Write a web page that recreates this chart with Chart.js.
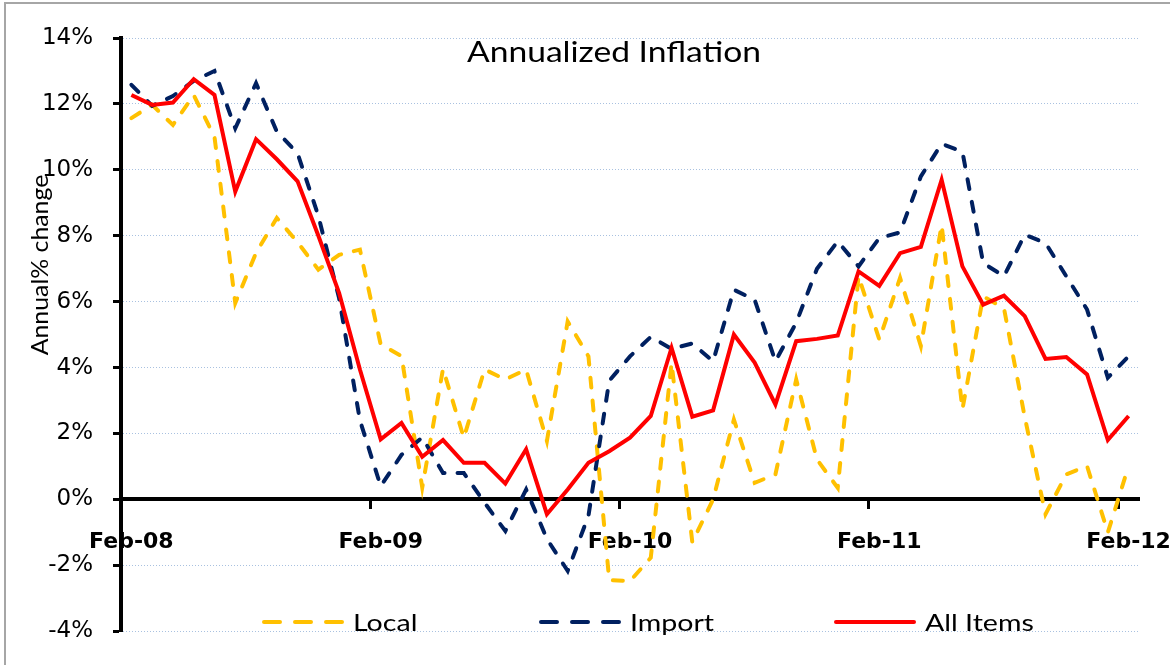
<!DOCTYPE html>
<html>
  <head>
    <title>Annualized Inflation</title>
    <script src="https://cdn.jsdelivr.net/npm/chart.js"></script>
    <style>
      html,
      body {
        margin: 0;
        padding: 0;
        background: #ffffff;
      }

      canvas {
        display: block;
      }
    </style>
  </head>
  <body>
    <canvas id="inflationChart" width="1170" height="665"></canvas>

    <script>
      // Monthly categories, Feb-08 to Feb-12
      const months = [
        "Feb-08", "Mar-08", "Apr-08", "May-08", "Jun-08", "Jul-08", "Aug-08", "Sep-08", "Oct-08", "Nov-08", "Dec-08", "Jan-09",
        "Feb-09", "Mar-09", "Apr-09", "May-09", "Jun-09", "Jul-09", "Aug-09", "Sep-09", "Oct-09", "Nov-09", "Dec-09", "Jan-10",
        "Feb-10", "Mar-10", "Apr-10", "May-10", "Jun-10", "Jul-10", "Aug-10", "Sep-10", "Oct-10", "Nov-10", "Dec-10", "Jan-11",
        "Feb-11", "Mar-11", "Apr-11", "May-11", "Jun-11", "Jul-11", "Aug-11", "Sep-11", "Oct-11", "Nov-11", "Dec-11", "Jan-12",
        "Feb-12",
      ];

      // Only these months get a label and a tick mark
      const yearTicks = ["Feb-08", "Feb-09", "Feb-10", "Feb-11", "Feb-12"];

      // Annual % change
      const localRate = [
        11.57, 11.97, 11.36, 12.27, 11.0, 5.96, 7.48, 8.54, 7.8, 6.97, 7.42, 7.58,
        4.7, 4.35, 0.36, 3.96, 1.87, 3.94, 3.64, 3.94, 1.77, 5.4, 4.34, -2.45,
        -2.48, -1.77, 4.14, -1.3, 0.0, 2.42, 0.5, 0.76, 3.64, 1.21, 0.35, 6.77,
        4.85, 6.72, 4.65, 8.33, 2.73, 6.16, 5.8, 2.5, -0.45, 0.76, 1.01, -1.0,
        1.01,
      ];
      const importRate = [
        12.58, 11.94, 12.24, 12.7, 13.0, 11.26, 12.63, 11.16, 10.5, 8.6, 6.1, 2.4,
        0.4, 1.35, 1.88, 0.8, 0.8, -0.1, -0.96, 0.3, -1.2, -2.17, -0.5, 3.6,
        4.34, 4.93, 4.57, 4.73, 4.19, 6.36, 6.06, 4.19, 5.36, 7.0, 7.83, 7.07,
        7.93, 8.1, 9.8, 10.79, 10.55, 7.17, 6.77, 8.03, 7.78, 6.77, 5.76, 3.69,
        4.34,
      ];
      const allItems = [
        12.27, 11.97, 12.04, 12.75, 12.27, 9.34, 10.93, 10.32, 9.65, 8.0, 6.26, 3.94,
        1.82, 2.32, 1.29, 1.8, 1.11, 1.11, 0.48, 1.52, -0.45, 0.3, 1.11, 1.46,
        1.87, 2.53, 4.6, 2.51, 2.7, 5.0, 4.15, 2.88, 4.8, 4.87, 4.97, 6.92,
        6.48, 7.47, 7.66, 9.7, 7.07, 5.91, 6.18, 5.56, 4.26, 4.32, 3.79, 1.8,
        2.53,
      ];

      const seriesNames = ["Local", "Import", "All Items"];
      const seriesColors = ["#ffc000", "#002060", "#ff0000"];
      const chartTitle = "Annualized Inflation";
      const yAxisTitle = "Annual% change";

      // text in the original is a bit wider than Lato, stretch it
      function stretchedText(ctx, text, x, y, stretch) {
        ctx.save();
        ctx.translate(x, y);
        ctx.scale(stretch, 1);
        ctx.fillText(text, 0, 0);
        ctx.restore();
      }

      // Title, y axis title, legend and outer frame drawn on top of the chart
      const decorations = {
        id: "decorations",
        afterDraw(chart) {
          const ctx = chart.ctx;
          ctx.save();

          // frame on the left and top edge
          ctx.strokeStyle = "#a6a6a6";
          ctx.lineWidth = 2;
          ctx.beginPath();
          ctx.moveTo(5, 665);
          ctx.lineTo(5, 3);
          ctx.lineTo(1170, 3);
          ctx.stroke();

          ctx.fillStyle = "#000000";
          ctx.textAlign = "center";
          ctx.textBaseline = "alphabetic";
          ctx.font = "28px Lato";
          stretchedText(ctx, chartTitle, 614, 62, 1.2);

          ctx.save();
          ctx.translate(48, 265);
          ctx.rotate(-Math.PI / 2);
          ctx.font = "23px Lato";
          stretchedText(ctx, yAxisTitle, 0, 0, 1.08);
          ctx.restore();

          // legend
          const legendX = [264, 541, 836];
          const legendY = 622;
          ctx.lineWidth = 4;
          ctx.lineCap = "round";
          ctx.textAlign = "left";
          ctx.font = "24px Lato";
          seriesNames.forEach(function (name, i) {
            ctx.strokeStyle = seriesColors[i];
            ctx.setLineDash(i < 2 ? [16, 15] : []);
            ctx.beginPath();
            ctx.moveTo(legendX[i], legendY);
            ctx.lineTo(legendX[i] + 78, legendY);
            ctx.stroke();
            ctx.fillStyle = "#000000";
            stretchedText(ctx, name, legendX[i] + 89, legendY + 9, 1.19);
          });

          ctx.restore();
        },
      };

      function drawChart() {
        const ctx = document.getElementById("inflationChart").getContext("2d");
        const data = [localRate, importRate, allItems];

        new Chart(ctx, {
          type: "line",
          data: {
            labels: months,
            datasets: seriesNames.map(function (name, i) {
              return {
                label: name,
                data: data[i],
                borderColor: seriesColors[i],
                backgroundColor: seriesColors[i],
                borderWidth: 4,
                borderDash: i < 2 ? [10, 13] : [],
                borderCapStyle: i < 2 ? "round" : "butt",
                borderJoinStyle: "miter",
                pointRadius: 0,
                tension: 0,
                fill: false,
                order: 3 - i,
              };
            }),
          },
          options: {
            responsive: false,
            animation: false,
            layout: {
              padding: { top: 38, bottom: 33, left: 0, right: 31 },
            },
            plugins: {
              legend: { display: false },
              title: { display: false },
              tooltip: { enabled: false },
            },
            scales: {
              x: {
                type: "category",
                position: { y: 0 },
                offset: true,
                grid: {
                  offset: true,
                  drawOnChartArea: false,
                  drawTicks: true,
                  tickLength: 8,
                  tickWidth: 3,
                  tickColor: function (c) {
                    return c.index % 12 === 0 ? "#000000" : "rgba(0,0,0,0)";
                  },
                },
                border: { display: true, color: "#000000", width: 4 },
                ticks: {
                  autoSkip: false,
                  maxRotation: 0,
                  minRotation: 0,
                  padding: 22,
                  color: "#000000",
                  font: { family: "DejaVu Sans", size: 22, weight: "bold" },
                  callback: function (value) {
                    const label = this.getLabelForValue(value);
                    return yearTicks.includes(label) ? label : "";
                  },
                },
                afterFit: function (scale) {
                  scale.paddingLeft = 0;
                  scale.paddingRight = 0;
                },
              },
              y: {
                min: -4,
                max: 14,
                grid: {
                  color: "#a9c1e0",
                  lineWidth: 1,
                  drawTicks: true,
                  tickLength: 8,
                  tickWidth: 3,
                  tickColor: "#000000",
                },
                border: { display: true, color: "#000000", width: 4, dash: [1, 2] },
                ticks: {
                  stepSize: 2,
                  padding: 20,
                  color: "#000000",
                  font: { family: "DejaVu Sans", size: 23 },
                  callback: function (value) {
                    return value + "%";
                  },
                },
                afterFit: function (scale) {
                  scale.width = 121;
                },
              },
            },
          },
          plugins: [decorations],
        });
      }

      drawChart();
    </script>
  </body>
</html>
